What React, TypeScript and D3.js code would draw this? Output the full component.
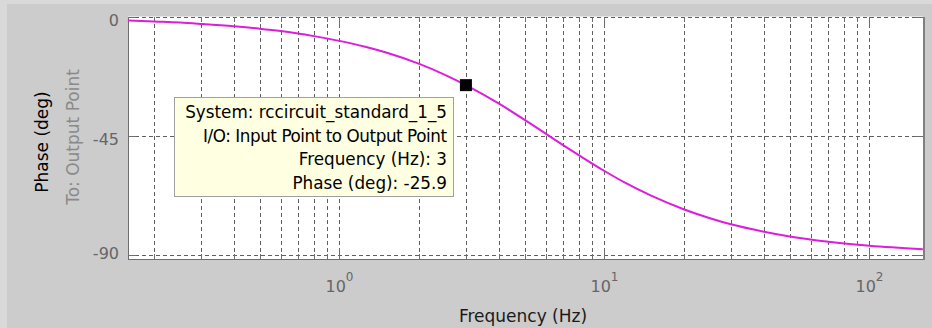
import React, { useEffect, useRef } from 'react';
import * as d3 from 'd3';

// phase response (Hz, deg)
const freqHz = [0.159, 0.2, 0.25, 0.3, 0.4, 0.5, 0.6, 0.8, 1, 1.25, 1.5, 2, 2.5, 3, 4, 5, 6, 7, 8, 10, 12, 15, 20, 25, 30, 40, 50, 70, 100, 159];
const phaseDeg = [-1.5, -1.9, -2.3, -2.8, -3.7, -4.6, -5.5, -7.4, -9.2, -11.4, -13.6, -17.9, -22.0, -25.9, -32.9, -39.0, -44.2, -48.6, -52.3, -58.3, -62.8, -67.6, -72.8, -76.1, -78.4, -81.2, -83.0, -85.0, -86.5, -87.8];

const xLimits = [0.1592, 159.2];
const yLimits = [-91.5, 0];
const yTicks = [0, -45, -90];
const xMajor = [1, 10, 100];
const xMajorExp = ['0', '1', '2'];

const tipFreq = 3;
const tipPhase = -25.9;
const tipLines = [
    'System: rccircuit_standard_1_5',
    'I/O: Input Point to Output Point',
    'Frequency (Hz): 3',
    'Phase (deg): -25.9',
];

const W = 932;
const H = 328;
const FONT = '"DejaVu Sans", sans-serif';

const App = () => {
    const ref = useRef<SVGSVGElement>(null);

    useEffect(() => {
        const svg = d3.select(ref.current);
        svg.selectAll('*').remove();

        const left = 128, right = 923, top = 16.5, bottom = 259;

        const x = d3.scaleLog().domain(xLimits).range([left, right]);
        const y = d3.scaleLinear().domain(yLimits).range([bottom, top]);

        // figure background
        svg.append('rect').attr('width', W).attr('height', H).attr('fill', '#d9d9d9');
        svg.append('rect').attr('x', 7).attr('y', 4).attr('width', W - 7).attr('height', H - 4).attr('fill', '#cccccc');

        // axes area
        svg.append('rect')
            .attr('x', left).attr('y', top)
            .attr('width', right - left).attr('height', bottom - top)
            .attr('fill', '#ffffff');

        const grid = svg.append('g')
            .attr('stroke', '#5f5f5f')
            .attr('stroke-width', 1)
            .attr('stroke-dasharray', '4,3')
            .attr('shape-rendering', 'crispEdges');

        const gridF = x.ticks();
        grid.selectAll('.vg')
            .data(gridF)
            .enter()
            .append('line')
            .attr('x1', d => Math.round(x(d)) + 0.5)
            .attr('x2', d => Math.round(x(d)) + 0.5)
            .attr('y1', top)
            .attr('y2', bottom);

        grid.selectAll('.hg')
            .data(yTicks)
            .enter()
            .append('line')
            .attr('x1', left)
            .attr('x2', right)
            .attr('y1', d => Math.round(y(d)) + 0.5)
            .attr('y2', d => Math.round(y(d)) + 0.5);

        // frame
        const frame = svg.append('g').attr('shape-rendering', 'crispEdges');
        frame.append('line').attr('x1', left + 0.5).attr('x2', left + 0.5).attr('y1', top).attr('y2', bottom + 1)
            .attr('stroke', '#6e6e6e');
        frame.append('line').attr('x1', left).attr('x2', right + 2).attr('y1', bottom + 0.5).attr('y2', bottom + 0.5)
            .attr('stroke', '#6e6e6e');
        frame.append('line').attr('x1', right + 1).attr('x2', right + 1).attr('y1', top).attr('y2', bottom + 1)
            .attr('stroke', '#808080').attr('stroke-width', 2);

        // ticks (inward)
        const isMajor = (d: number) => Math.abs(Math.log10(d) - Math.round(Math.log10(d))) < 1e-6;
        const ticks = svg.append('g').attr('stroke', '#6e6e6e').attr('shape-rendering', 'crispEdges');
        ticks.selectAll('.tb')
            .data(gridF)
            .enter()
            .append('line')
            .attr('x1', d => Math.round(x(d)) + 0.5)
            .attr('x2', d => Math.round(x(d)) + 0.5)
            .attr('y1', bottom)
            .attr('y2', d => bottom - (isMajor(d) ? 10 : 5));
        ticks.selectAll('.tt')
            .data(gridF)
            .enter()
            .append('line')
            .attr('x1', d => Math.round(x(d)) + 0.5)
            .attr('x2', d => Math.round(x(d)) + 0.5)
            .attr('y1', top)
            .attr('y2', d => top + (isMajor(d) ? 10 : 5));
        ticks.selectAll('.tl')
            .data(yTicks)
            .enter()
            .append('line')
            .attr('x1', left)
            .attr('x2', left + 8)
            .attr('y1', d => Math.round(y(d)) + 0.5)
            .attr('y2', d => Math.round(y(d)) + 0.5);
        ticks.selectAll('.tr')
            .data(yTicks)
            .enter()
            .append('line')
            .attr('x1', right)
            .attr('x2', right - 8)
            .attr('y1', d => Math.round(y(d)) + 0.5)
            .attr('y2', d => Math.round(y(d)) + 0.5);

        // phase curve
        const line = d3.line<number>()
            .x((d, i) => x(freqHz[i]))
            .y(d => y(d))
            .curve(d3.curveMonotoneX);
        svg.append('path')
            .datum(phaseDeg)
            .attr('d', line)
            .attr('fill', 'none')
            .attr('stroke', '#dc1edc')
            .attr('stroke-width', 2);

        // tick labels
        const xl = svg.append('g')
            .attr('font-family', FONT)
            .attr('fill', '#666666')
            .attr('text-anchor', 'middle');
        xMajor.forEach((v, i) => {
            const t = xl.append('text').attr('x', x(v)).attr('y', 292);
            t.append('tspan').attr('font-size', 16).text('10');
            t.append('tspan').attr('font-size', 12).attr('dy', -11).text(xMajorExp[i]);
        });

        svg.append('g')
            .attr('font-family', FONT)
            .attr('font-size', 16)
            .attr('fill', '#666666')
            .attr('text-anchor', 'end')
            .selectAll('text')
            .data(yTicks)
            .enter()
            .append('text')
            .attr('x', 119)
            .attr('y', d => Math.max(25, Math.min(259, y(d) + 9)))
            .text(d => String(d));

        // axis labels
        svg.append('text')
            .attr('x', 523).attr('y', 322)
            .attr('font-family', FONT).attr('font-size', 17)
            .attr('fill', '#1a1a1a').attr('text-anchor', 'middle')
            .text('Frequency (Hz)');
        svg.append('text')
            .attr('transform', 'translate(48,142) rotate(-90)')
            .attr('font-family', FONT).attr('font-size', 17)
            .attr('fill', '#000000').attr('text-anchor', 'middle')
            .text('Phase (deg)');
        svg.append('text')
            .attr('transform', 'translate(79,137) rotate(-90)')
            .attr('font-family', FONT).attr('font-size', 17)
            .attr('fill', '#8a8a8a').attr('text-anchor', 'middle')
            .text('To: Output Point');

        // data tip
        const mx = x(tipFreq);
        const my = y(tipPhase);
        svg.append('rect')
            .attr('x', 174.5).attr('y', 97.5)
            .attr('width', 279).attr('height', 99)
            .attr('fill', '#ffffe1')
            .attr('stroke', '#a0a0a0');
        svg.append('g')
            .attr('font-family', FONT)
            .attr('font-size', 16.8)
            .attr('fill', '#000000')
            .attr('text-anchor', 'end')
            .selectAll('text')
            .data(tipLines)
            .enter()
            .append('text')
            .attr('x', 447)
            .attr('y', (d, i) => 118 + i * 23.7)
            .attr('textLength', (d, i) => (i === 1 ? 244 : null))
            .attr('lengthAdjust', 'spacing')
            .text(d => d);

        svg.append('rect')
            .attr('x', mx - 6).attr('y', my - 6)
            .attr('width', 12).attr('height', 12)
            .attr('fill', '#000000');
    }, []);

    return (
        <svg
            ref={ref}
            width={W}
            height={H}
            style={{ position: 'absolute', left: 0, top: 0, display: 'block' }}
        />
    );
};

export default App;
